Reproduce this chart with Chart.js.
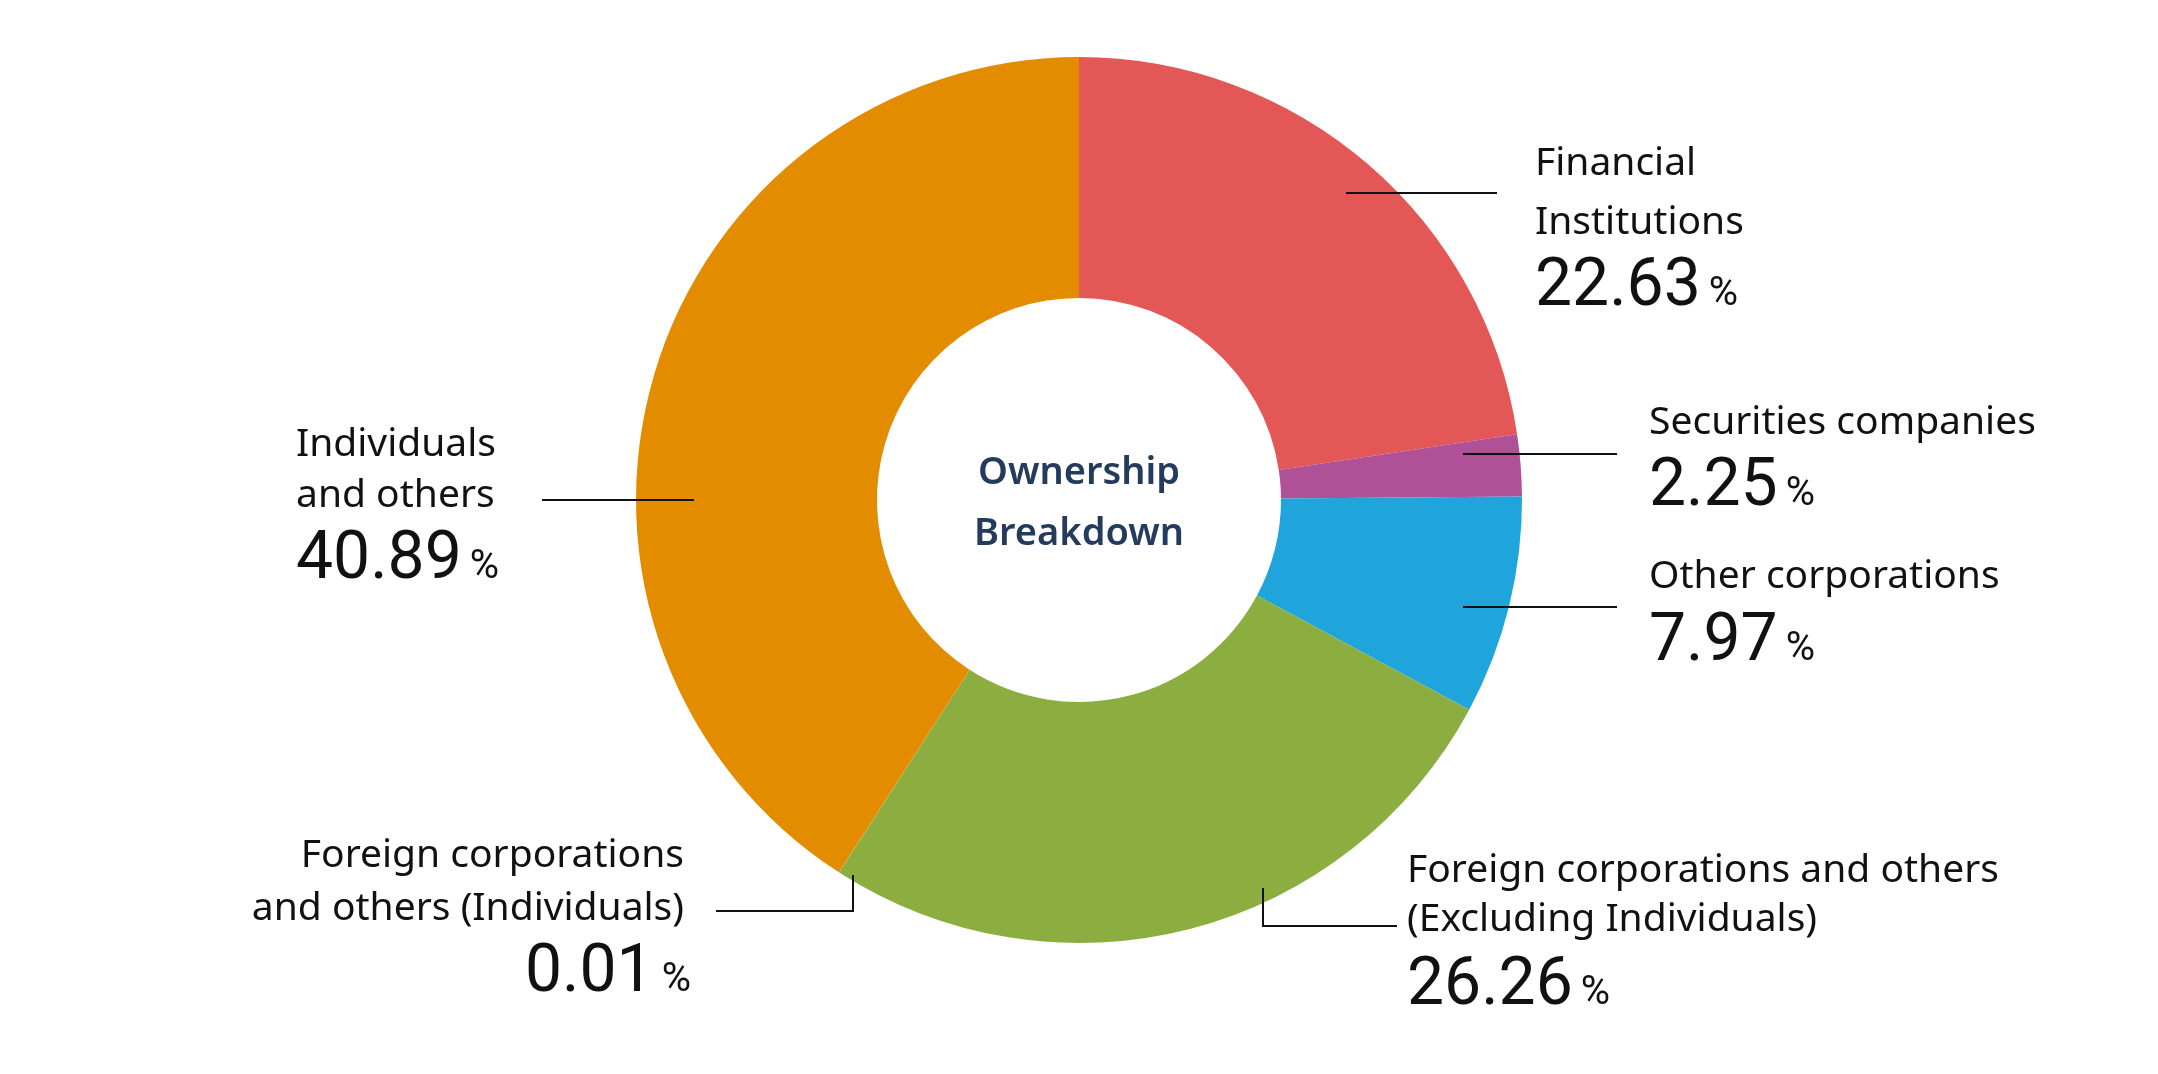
<!DOCTYPE html>
<html>
<head>
<meta charset="utf-8">
<script src="https://cdn.jsdelivr.net/npm/chart.js@4"></script>
<style>
  html, body { margin: 0; padding: 0; background: #fff; }
  #wrap { width: 2158px; height: 1074px; position: relative; }
</style>
</head>
<body>
<div id="wrap"><canvas id="chart-owner"></canvas></div>
<script>
// dados
const categorias = [
  'Financial Institutions',
  'Securities companies',
  'Other corporations',
  'Foreign corporations and others (Excluding Individuals)',
  'Foreign corporations and others (Individuals)',
  'Individuals and others'
];
const valores = [22.63, 2.25, 7.97, 26.26, 0.01, 40.89];
const cores = ['#e35757', '#b05198', '#20a4dc', '#8cae41', '#8cae41', '#e38c00'];

// linhas do rotulo de cada fatia
const rotulos = [
  ['Financial', 'Institutions'],
  ['Securities companies'],
  ['Other corporations'],
  ['Foreign corporations and others', '(Excluding Individuals)'],
  ['Foreign corporations', 'and others (Individuals)'],
  ['Individuals', 'and others']
];

// posicao dos rotulos e linhas guia (px)
const layoutRotulos = [
  { x: 1535, lines: [175, 234], num: 305, align: 'left', guide: [[1346, 193], [1497, 193]] },
  { x: 1649, lines: [434], num: 505, align: 'left', guide: [[1463, 454], [1617, 454]] },
  { x: 1649, lines: [588], num: 660, align: 'left', guide: [[1463, 607], [1617, 607]] },
  { x: 1407, lines: [882, 931], num: 1004, align: 'left', guide: [[1263, 888], [1263, 926], [1397, 926]] },
  { x: 684, lines: [867, 920], num: 991, align: 'right', numRight: 691, guide: [[853, 875], [853, 911], [716, 911]] },
  { x: 296, lines: [456, 507], num: 578, align: 'left', guide: [[694, 500], [542, 500]] }
];

const rotulosPlugin = {
  id: 'rotulos',
  afterDraw(chart) {
    const ctx = chart.ctx;
    const arc = chart.getDatasetMeta(0).data[0];
    ctx.save();

    // linhas guia
    ctx.strokeStyle = '#111';
    ctx.lineWidth = 2;
    layoutRotulos.forEach(l => {
      ctx.beginPath();
      l.guide.forEach((p, i) => i === 0 ? ctx.moveTo(p[0], p[1]) : ctx.lineTo(p[0], p[1]));
      ctx.stroke();
    });

    ctx.fillStyle = '#111';
    ctx.textBaseline = 'alphabetic';
    layoutRotulos.forEach((l, i) => {
      ctx.font = '400 39px "Noto Sans"';
      ctx.textAlign = l.align;
      rotulos[i].forEach((txt, j) => ctx.fillText(txt, l.x, l.lines[j]));

      // valor + %
      const num = valores[i].toFixed(2);
      ctx.font = '400 66px Roboto';
      const wNum = ctx.measureText(num).width;
      ctx.font = '400 40px Roboto';
      const wPct = ctx.measureText('%').width;
      const gap = 8;
      let x0 = l.align === 'left' ? l.x : l.numRight - wPct - gap - wNum;
      ctx.textAlign = 'left';
      ctx.font = '400 66px Roboto';
      ctx.fillText(num, x0, l.num);
      ctx.font = '400 40px Roboto';
      ctx.fillText('%', x0 + wNum + gap, l.num);
    });

    // titulo central
    ctx.fillStyle = '#243b5e';
    ctx.textAlign = 'center';
    ctx.textBaseline = 'middle';
    ctx.font = '600 38px "Noto Sans"';
    ctx.fillText('Ownership', arc.x, arc.y - 27);
    ctx.fillText('Breakdown', arc.x, arc.y + 34);
    ctx.restore();
  }
};

const ctx = document.getElementById('chart-owner').getContext('2d');
new Chart(ctx, {
  type: 'doughnut',
  data: {
    labels: categorias,
    datasets: [{
      data: valores,
      backgroundColor: cores,
      borderWidth: 0,
      hoverOffset: 0,
      offset: 0
    }]
  },
  options: {
    responsive: true,
    maintainAspectRatio: false,
    animation: false,
    cutout: '45.6%',
    layout: { padding: { top: 57, bottom: 131, left: 0, right: 0 } },
    plugins: {
      legend: { display: false },
      tooltip: { enabled: false }
    }
  },
  plugins: [rotulosPlugin]
});
</script>
</body>
</html>
